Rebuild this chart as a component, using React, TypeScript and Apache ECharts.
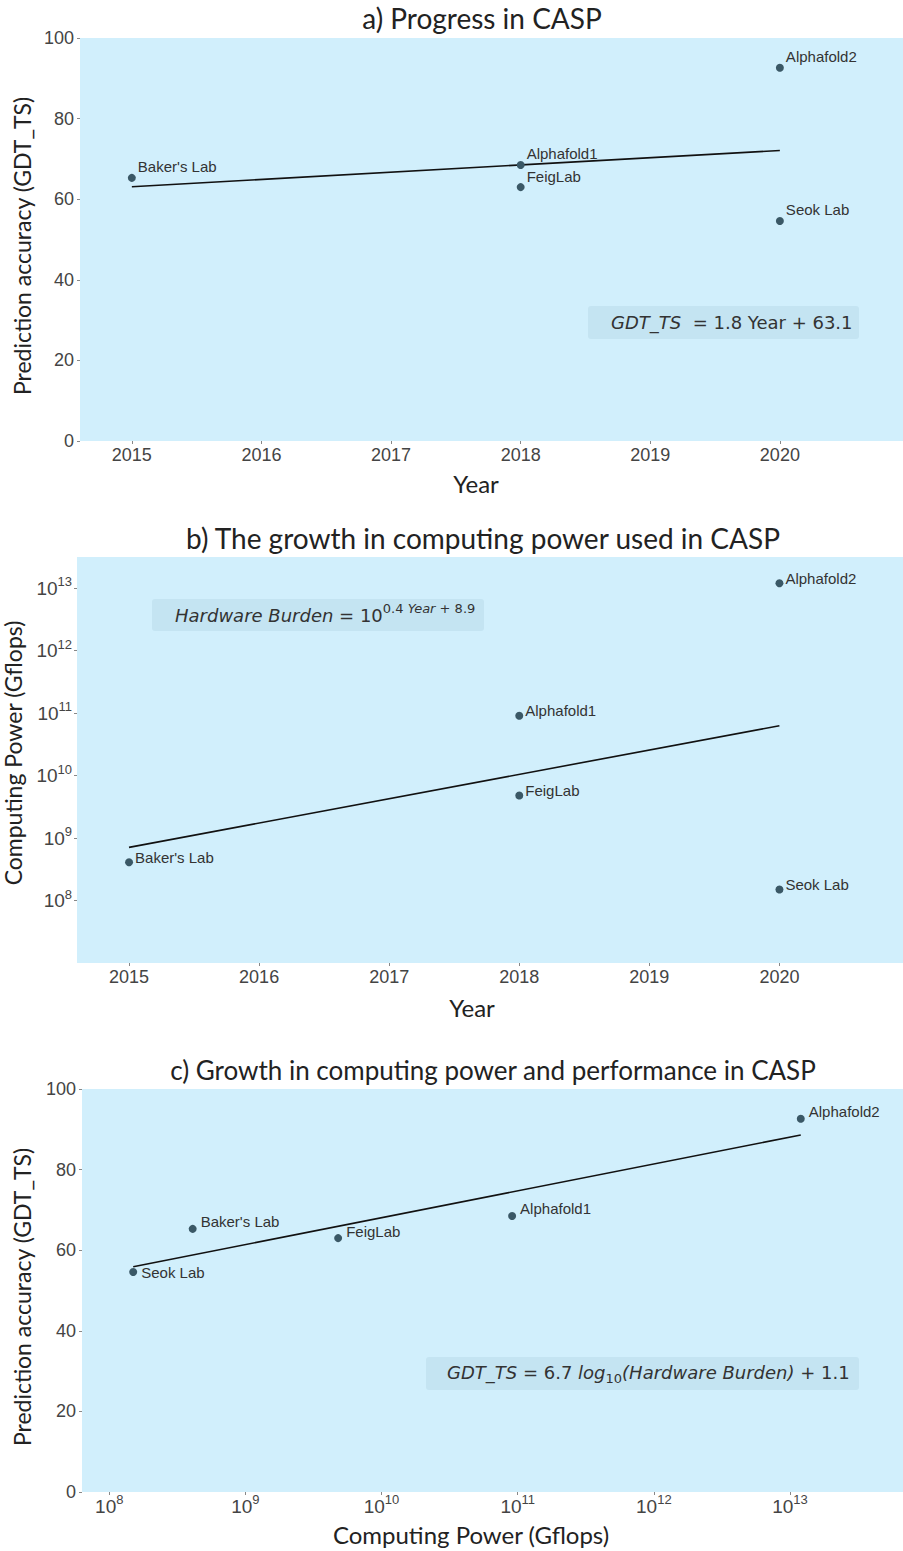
import React, { useEffect, useRef } from "react";
import * as echarts from "echarts";

// ---- data ----
const labs = ["Baker's Lab", "Alphafold1", "FeigLab", "Alphafold2", "Seok Lab"];
const years = [2015, 2018, 2018, 2020, 2020];
const gdtTs = [65.3, 68.5, 63.0, 92.6, 54.6];
const computeGflops = [4.1e8, 9.1e10, 4.8e9, 1.2e13, 1.5e8];

const fitYears = [2015, 2020];
const fitGdtByYear = [63.1, 72.1];
const fitComputeByYear = [7.1e8, 6.3e10];
const fitComputeX = [1.5e8, 1.2e13];
const fitGdtByCompute = [55.9, 88.6];

const yearTicks = [2015, 2016, 2017, 2018, 2019, 2020];
const gdtTicks = [0, 20, 40, 60, 80, 100];
const powerTicks = [1e8, 1e9, 1e10, 1e11, 1e12, 1e13];

const titles = [
  "a) Progress in CASP",
  "b) The growth in computing power used in CASP",
  "c) Growth in computing power and performance in CASP",
];

// ---- styles ----
const BG = "#d1effc";
const BOX = "#c4e4f2";
const DOT = "#3a5866";
const TICK_FONT = "Liberation Sans";
const TITLE_FONT = "Lato";
const ANN_FONT = "DejaVu Sans";

const supFmt = (v: number) => "{b|10}{s|" + Math.round(Math.log10(v)) + "}";
const supRich = {
  b: { fontSize: 19, color: "#444", fontFamily: TICK_FONT, lineHeight: 26 },
  s: { fontSize: 13, color: "#444", fontFamily: TICK_FONT, verticalAlign: "top" },
};

function pointData(xs: number[], ys: number[], offsets: Record<string, number[]>, def: number[]) {
  return labs.map((n, i) => ({
    name: n,
    value: [xs[i], ys[i]],
    label: { offset: offsets[n] || def },
  }));
}

export default function App() {
  const ref = useRef<HTMLDivElement>(null);
  useEffect(() => {
    document.body.style.margin = "0";
    if (!ref.current) return;
    const chart = echarts.init(ref.current, undefined, { renderer: "svg" });

    const baseTick = { show: true, length: 3, lineStyle: { color: "#888" } };
    const linLabel = { fontSize: 18, color: "#444", fontFamily: TICK_FONT, formatter: (v: number) => String(v) };

    const scatterBase = (xi: number, distance: number) => ({
      type: "scatter",
      xAxisIndex: xi,
      yAxisIndex: xi,
      symbolSize: 8,
      itemStyle: { color: DOT, opacity: 1 },
      label: {
        show: true,
        position: "right",
        distance,
        formatter: "{b}",
        fontSize: 15,
        color: "#333",
        fontFamily: TICK_FONT,
      },
      z: 3,
    });
    const lineBase = (xi: number) => ({
      type: "line",
      xAxisIndex: xi,
      yAxisIndex: xi,
      symbol: "none",
      lineStyle: { color: "#111", width: 1.6 },
      z: 2,
    });

    const annBase = { fontSize: 18, fontFamily: ANN_FONT, fill: "#333" };
    const titleStyle = { align: "center", verticalAlign: "middle", fontFamily: TITLE_FONT, fill: "#222" };
    const titleSizes = [28, 28, 26];

    const option: any = {
      animation: false,
      grid: [
        { left: 80, top: 38, width: 823, height: 403, show: true, backgroundColor: BG, borderWidth: 0 },
        { left: 77, top: 557, width: 826, height: 406, show: true, backgroundColor: BG, borderWidth: 0 },
        { left: 82, top: 1089, width: 821, height: 403, show: true, backgroundColor: BG, borderWidth: 0 },
      ],
      xAxis: [
        {
          gridIndex: 0, type: "value", min: 2014.6, max: 2020.95,
          axisLine: { show: false }, splitLine: { show: false },
          axisTick: { ...baseTick, customValues: yearTicks },
          axisLabel: { ...linLabel, margin: 5, customValues: yearTicks },
        },
        {
          gridIndex: 1, type: "value", min: 2014.6, max: 2020.95,
          axisLine: { show: false }, splitLine: { show: false },
          axisTick: { ...baseTick, customValues: yearTicks },
          axisLabel: { ...linLabel, margin: 5, customValues: yearTicks },
        },
        {
          gridIndex: 2, type: "log", logBase: 10, min: Math.pow(10, 7.8), max: Math.pow(10, 13.83),
          axisLine: { show: false }, splitLine: { show: false },
          axisTick: { ...baseTick, customValues: powerTicks },
          axisLabel: { margin: 1, customValues: powerTicks, formatter: supFmt, rich: supRich },
        },
      ],
      yAxis: [
        {
          gridIndex: 0, type: "value", min: 0, max: 100,
          axisLine: { show: false }, splitLine: { show: false },
          axisTick: { ...baseTick, customValues: gdtTicks },
          axisLabel: { ...linLabel, margin: 6, customValues: gdtTicks },
        },
        {
          gridIndex: 1, type: "log", logBase: 10, min: 1e7, max: Math.pow(10, 13.5),
          axisLine: { show: false }, splitLine: { show: false },
          axisTick: { ...baseTick, customValues: powerTicks },
          axisLabel: { margin: 5, customValues: powerTicks, formatter: supFmt, rich: supRich },
        },
        {
          gridIndex: 2, type: "value", min: 0, max: 100,
          axisLine: { show: false }, splitLine: { show: false },
          axisTick: { ...baseTick, customValues: gdtTicks },
          axisLabel: { ...linLabel, margin: 6, customValues: gdtTicks },
        },
      ],
      series: [
        { ...lineBase(0), data: fitYears.map((x, i) => [x, fitGdtByYear[i]]) },
        { ...scatterBase(0, 2), data: pointData(years, gdtTs, {}, [0, -11]) },
        { ...lineBase(1), data: fitYears.map((x, i) => [x, fitComputeByYear[i]]) },
        { ...scatterBase(1, 2), data: pointData(years, computeGflops, {}, [0, -5]) },
        { ...lineBase(2), data: fitComputeX.map((x, i) => [x, fitGdtByCompute[i]]) },
        { ...scatterBase(2, 4), data: pointData(computeGflops, gdtTs, { "Seok Lab": [0, 1] }, [0, -7]) },
      ],
      graphic: [
        // titles
        ...[[482, 18], [483, 538], [493, 1070]].map(([x, y], i) => ({
          type: "text", x, y,
          style: { ...titleStyle, text: titles[i], fontSize: titleSizes[i] },
        })),
        // x axis titles
        ...[["Year", 476, 483], ["Year", 472, 1007], ["Computing Power (Gflops)", 471, 1534]].map(([t, x, y]) => ({
          type: "text", x, y,
          style: { ...titleStyle, text: t, fontSize: 24 },
        })),
        // y axis titles
        ...[["Prediction accuracy (GDT_TS)", 22, 246], ["Computing Power (Gflops)", 13, 753], ["Prediction accuracy (GDT_TS)", 22, 1297]].map(([t, x, y]) => ({
          type: "text", x, y, rotation: Math.PI / 2,
          style: { ...titleStyle, text: t, fontSize: 23 },
        })),
        // annotation boxes
        { type: "rect", shape: { x: 588, y: 306, width: 271, height: 33, r: 3 }, style: { fill: BOX } },
        {
          type: "text", x: 611, y: 322,
          style: {
            ...annBase,
            text: "{i|GDT_TS}{n|  = 1.8 Year + 63.1}",
            verticalAlign: "middle",
            rich: {
              i: { ...annBase, fontStyle: "italic" },
              n: { ...annBase },
            },
          },
        },
        { type: "rect", shape: { x: 152, y: 599, width: 332, height: 32, r: 3 }, style: { fill: BOX } },
        {
          type: "text", x: 175, y: 615,
          style: {
            ...annBase,
            text: "{i|Hardware Burden}{n| = 10}{s|0.4 }{si|Year}{s| + 8.9}",
            verticalAlign: "middle",
            rich: {
              i: { ...annBase, fontStyle: "italic", lineHeight: 26 },
              n: { ...annBase, lineHeight: 26 },
              s: { ...annBase, fontSize: 13, verticalAlign: "top" },
              si: { ...annBase, fontSize: 13, fontStyle: "italic", verticalAlign: "top" },
            },
          },
        },
        { type: "rect", shape: { x: 426, y: 1357, width: 433, height: 33, r: 3 }, style: { fill: BOX } },
        {
          type: "text", x: 447, y: 1372,
          style: {
            ...annBase,
            text: "{i|GDT_TS}{n| = 6.7 }{i|log}{sub|10}{i|(Hardware Burden)}{n| + 1.1}",
            verticalAlign: "middle",
            rich: {
              i: { ...annBase, fontStyle: "italic", lineHeight: 26 },
              n: { ...annBase, lineHeight: 26 },
              sub: { ...annBase, fontSize: 13, verticalAlign: "bottom" },
            },
          },
        },
      ],
    };
    chart.setOption(option);
    return () => chart.dispose();
  }, []);
  return <div ref={ref} style={{ width: 903, height: 1551 }} />;
}
